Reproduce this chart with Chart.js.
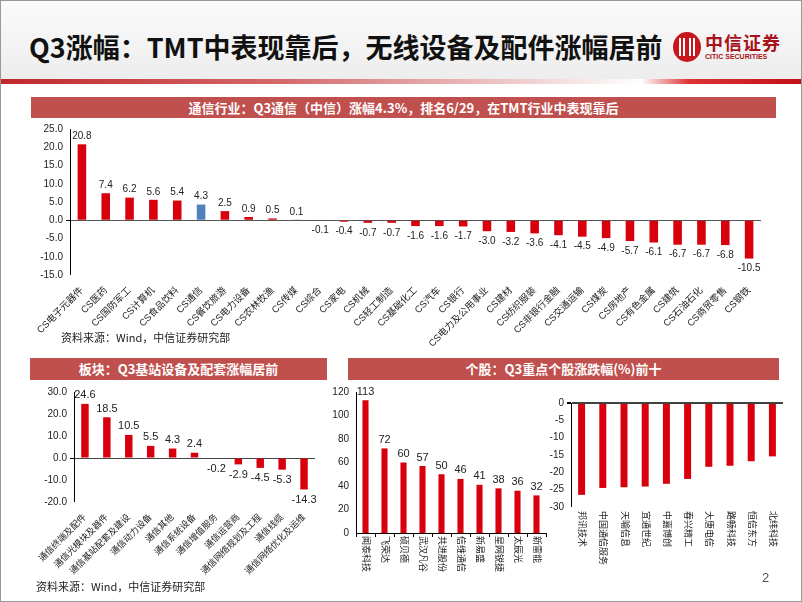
<!DOCTYPE html>
<html>
<head>
<meta charset="utf-8">
<script src="https://cdn.jsdelivr.net/npm/chart.js@4.4.1/dist/chart.umd.min.js"></script>
<style>
  body { margin: 0; background: #fff; }
  #page { position: relative; width: 800px; height: 600px; border: 1px solid #999; overflow: hidden;
    font-family: "Liberation Sans", "Noto Sans CJK SC", sans-serif; }
  #top_band { position: absolute; left: 0; top: 0; width: 800px; height: 78px;
    background: linear-gradient(#fbfbfb, #ededed); }
  #red_line { position: absolute; left: 0; top: 78px; width: 800px; height: 5px;
    background: linear-gradient(to right, #c0282b 0%, #d4686a 35%, #f4dede 70%, #ffffff 80%, #d33 86%, #c0101a 100%); }
  #title { position: absolute; left: 28px; top: 26px; font: bold 27px "Noto Sans CJK SC", sans-serif; color: #111; }
  .bar_head { position: absolute; background: #c0504d; color: #fff; font: bold 13px "Noto Sans CJK SC", sans-serif;
    text-align: center; line-height: 21px; }
  .src { position: absolute; font: 11px "Noto Sans CJK SC", sans-serif; color: #222; }
  canvas { position: absolute; }
  #logo_circle { position: absolute; left: 672px; top: 31px; width: 28px; height: 30px; border-radius: 50%; background: #c8161d; }
  #logo_circle div { position: absolute; top: 6px; width: 2px; height: 18px; background: #fff; }
  #logo_cn { position: absolute; left: 704px; top: 28px; font: bold 18px "Noto Sans CJK SC", serif; color: #a8121a; letter-spacing: 1px; }
  #logo_en { position: absolute; left: 704px; top: 52px; font: bold 7px "Liberation Sans", sans-serif; color: #a8121a; }
  #page_no { position: absolute; left: 761px; top: 569px; font: 13px "Liberation Sans", sans-serif; color: #555; }
</style>
</head>
<body>
<div id="page">
  <div id="top_band"></div>
  <div id="red_line"></div>
  <div id="title">Q3涨幅：TMT中表现靠后，无线设备及配件涨幅居前</div>
  <div id="logo_circle"><div style="left:6px"></div><div style="left:10px"></div><div style="left:16px"></div><div style="left:20px"></div></div>
  <div id="logo_cn">中信证券</div>
  <div id="logo_en">CITIC SECURITIES</div>

  <div class="bar_head" style="left:30px;top:96px;width:745px;height:21px;">通信行业：Q3通信（中信）涨幅4.3%，排名6/29，在TMT行业中表现靠后</div>
  <canvas id="industryChart" width="760" height="228" style="left:20px;top:118px;"></canvas>
  <div class="src" style="left:60px;top:328px;">资料来源：Wind，中信证券研究部</div>

  <div class="bar_head" style="left:29px;top:357px;width:297px;height:22px;line-height:22px;">板块：Q3基站设备及配套涨幅居前</div>
  <canvas id="sectorChart" width="300" height="200" style="left:25px;top:380px;"></canvas>
  <div class="src" style="left:35px;top:577px;">资料来源：Wind，中信证券研究部</div>

  <div class="bar_head" style="left:347px;top:357px;width:431px;height:22px;line-height:22px;">个股：Q3重点个股涨跌幅(%)前十</div>
  <canvas id="upChart" width="222" height="195" style="left:328px;top:380px;"></canvas>
  <canvas id="downChart" width="245" height="175" style="left:545px;top:392px;"></canvas>

  <div id="page_no">2</div>
</div>

<script>
// 中信一级行业 Q3 涨幅
const industry_labels = ["CS电子元器件", "CS医药", "CS国防军工", "CS计算机", "CS食品饮料", "CS通信", "CS餐饮旅游",
  "CS电力设备", "CS农林牧渔", "CS传媒", "CS综合", "CS家电", "CS机械", "CS轻工制造", "CS基础化工", "CS汽车", "CS银行",
  "CS电力及公用事业", "CS建材", "CS纺织服装", "CS非银行金融", "CS交通运输", "CS煤炭", "CS房地产", "CS有色金属",
  "CS建筑", "CS石油石化", "CS商贸零售", "CS钢铁"];
const industry_values = [20.8, 7.4, 6.2, 5.6, 5.4, 4.3, 2.5, 0.9, 0.5, 0.1, -0.1, -0.4, -0.7, -0.7, -1.6, -1.6, -1.7,
  -3.0, -3.2, -3.6, -4.1, -4.5, -4.9, -5.7, -6.1, -6.7, -6.7, -6.8, -10.5];

// 通信子板块
const sector_labels = ["通信终端及配件", "通信光模块及器件", "通信基站配套及建设", "通信动力设备", "通信其他", "通信系统设备",
  "通信增值服务", "通信运营商", "通信网络规划及工程", "通信线缆", "通信网络优化及运维"];
const sector_values = [24.6, 18.5, 10.5, 5.5, 4.3, 2.4, -0.2, -2.9, -4.5, -5.3, -14.3];

// 个股涨幅前十 / 跌幅前十
const up_labels = ["闻泰科技", "飞荣达", "硕贝德", "武汉凡谷", "共进股份", "信维通信", "新易盛", "星网锐捷", "太辰光", "新雷能"];
const up_values = [113, 72, 60, 57, 50, 46, 41, 38, 36, 32];
const down_labels = ["邦讯技术", "中国通信服务", "天喻信息", "宜通世纪", "中嘉博创", "春兴精工", "大唐电信", "路畅科技", "恒信东方", "北纬科技"];
const down_values = [-26.5, -24.5, -24.3, -24.1, -23.3, -21.9, -18.4, -18.1, -16.8, -15.4];

const RED = "#d9000d";
const BLUE = "#4f81bd";
const FONT = "'Liberation Sans', 'Noto Sans CJK SC', sans-serif";

// draws the value above / below each bar
const valueLabels = {
  id: "valueLabels",
  afterDatasetsDraw(chart, args, opts) {
    if (!opts.show) return;
    const ctx = chart.ctx;
    const meta = chart.getDatasetMeta(0);
    const data = chart.data.datasets[0].data;
    ctx.save();
    ctx.font = opts.size + "px " + FONT;
    ctx.fillStyle = "#222";
    ctx.textAlign = "center";
    meta.data.forEach((bar, i) => {
      const v = data[i];
      const txt = opts.decimals ? v.toFixed(opts.decimals) : String(v);
      if (v >= 0) {
        ctx.textBaseline = "bottom";
        ctx.fillText(txt, bar.x, bar.y - 3);
      } else {
        ctx.textBaseline = "top";
        ctx.fillText(txt, bar.x, bar.y + 5);
      }
    });
    ctx.restore();
  },
};

// category names turned 90deg clockwise, reading downwards from the axis
const verticalLabels = {
  id: "verticalLabels",
  afterDraw(chart, args, opts) {
    if (!opts.show) return;
    const ctx = chart.ctx;
    const xs = chart.scales.x;
    ctx.save();
    ctx.font = opts.size + "px " + FONT;
    ctx.fillStyle = "#222";
    ctx.textAlign = "left";
    ctx.textBaseline = "middle";
    chart.data.labels.forEach((lab, i) => {
      ctx.save();
      ctx.translate(xs.getPixelForTick(i), xs.top + opts.pad);
      ctx.rotate(Math.PI / 2);
      ctx.fillText(lab, 0, 0);
      ctx.restore();
    });
    ctx.restore();
  },
};

function zeroGrid(color, width) {
  return {
    color: (c) => (c.tick && c.tick.value === 0 ? color : "transparent"),
    lineWidth: (c) => (c.tick && c.tick.value === 0 ? width : 0),
    tickColor: "#000",
    tickLength: 4,
  };
}

function makeChart(id, labels, values, colors, cfg) {
  const ctx = document.getElementById(id).getContext("2d");
  return new Chart(ctx, {
    type: "bar",
    data: {
      labels: labels,
      datasets: [{ data: values, backgroundColor: colors, barPercentage: cfg.barPct, categoryPercentage: 1 }],
    },
    plugins: [valueLabels, verticalLabels],
    options: {
      responsive: false,
      animation: false,
      layout: { padding: cfg.padding },
      plugins: {
        legend: { display: false },
        tooltip: { enabled: false },
        valueLabels: cfg.values,
        verticalLabels: cfg.vertical || { show: false },
      },
      scales: {
        x: {
          grid: cfg.xGrid || { display: false },
          border: cfg.xBorder || { display: false },
          ticks: {
            display: !cfg.vertical,
            autoSkip: false,
            minRotation: cfg.rot,
            maxRotation: cfg.rot,
            color: "#222",
            padding: 2,
            font: { family: FONT, size: cfg.xFont },
          },
          afterFit: (s) => { s.height = cfg.xHeight; },
        },
        y: {
          min: cfg.min,
          max: cfg.max,
          ticks: {
            stepSize: cfg.step,
            color: "#222",
            padding: 3,
            font: { family: FONT, size: cfg.yFont },
            callback: (v) => (cfg.yDec ? v.toFixed(cfg.yDec) : v),
          },
          grid: zeroGrid(cfg.zeroColor, cfg.zeroWidth),
          border: { display: true, color: "#000", width: 1 },
          afterFit: (s) => { s.width = cfg.yWidth; },
        },
      },
    },
  });
}

makeChart("industryChart", industry_labels, industry_values,
  industry_labels.map((l) => (l === "CS通信" ? BLUE : RED)), {
    barPct: 0.36, padding: { top: 10, right: 20, left: 0, bottom: 0 },
    rot: 45, xFont: 9.5, xHeight: 72, yWidth: 49, yFont: 10, yDec: 1,
    min: -15, max: 25, step: 5, zeroColor: "#555", zeroWidth: 1,
    values: { show: true, size: 10, decimals: 1 },
  });

makeChart("sectorChart", sector_labels, sector_values, RED, {
  barPct: 0.34, padding: { top: 11, right: 11, left: 0, bottom: 0 },
  rot: 45, xFont: 9, xHeight: 79, yWidth: 48, yFont: 10, yDec: 1,
  min: -20, max: 30, step: 5, zeroColor: "#444", zeroWidth: 1,
  values: { show: true, size: 11, decimals: 1 },
});

makeChart("upChart", up_labels, up_values, RED, {
  barPct: 0.32, padding: { top: 11, right: 5, left: 0, bottom: 0 },
  rot: 0, xFont: 9, xHeight: 43, yWidth: 27, yFont: 10,
  vertical: { show: true, size: 9, pad: 3 },
  xGrid: { display: true, drawOnChartArea: false, tickColor: "#000", tickLength: 4 },
  xBorder: { display: true, color: "#000" },
  min: 0, max: 120, step: 20, zeroColor: "transparent", zeroWidth: 0,
  values: { show: true, size: 11, decimals: 0 },
});

makeChart("downChart", down_labels, down_values, RED, {
  barPct: 0.33, padding: { top: 10, right: 8, left: 0, bottom: 0 },
  rot: 0, xFont: 9, xHeight: 61, yWidth: 25, yFont: 10,
  vertical: { show: true, size: 9, pad: 4 },
  min: -30, max: 0, step: 5, zeroColor: "#404040", zeroWidth: 2,
  values: { show: false },
});
</script>
</body>
</html>
